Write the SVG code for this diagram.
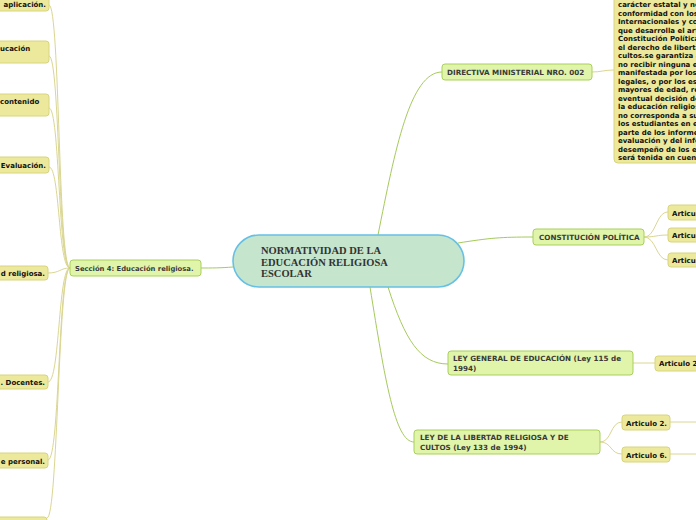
<svg xmlns="http://www.w3.org/2000/svg" width="696" height="520" viewBox="0 0 696 520">
<style>
.g rect{fill:#e0f5a9;stroke:#a9cf5c;stroke-width:1}
.y rect{fill:#ece99c;stroke:#d8d47e;stroke-width:1}
.g text{font-family:"DejaVu Sans",Verdana,sans-serif;font-weight:bold;font-size:7.2px;fill:#3a3a3a}
.g text.lc{font-size:6.8px}
.y text{font-family:"DejaVu Sans",Verdana,sans-serif;font-weight:bold;font-size:7px;fill:#111}
.cg{fill:none;stroke:#a6ca5c;stroke-width:1}
.cy{fill:none;stroke:#dad692;stroke-width:1}
.c text{font-family:"Liberation Serif","Times New Roman",serif;font-weight:bold;font-size:10.5px;fill:#333}
</style>
<rect width="696" height="520" fill="#fff"/>
<g id="connectors">
<path class="cg" d="M233,267 C220,268 212,268 201,268"/>
<path class="cg" d="M378,235 C395,150 410,72 442,72"/>
<path class="cg" d="M458,243 C490,238 500,237 533,237"/>
<path class="cg" d="M388,287 C405,340 420,364 448,364"/>
<path class="cg" d="M370,287 C385,380 395,442 414,442"/>
<path class="cy" d="M592,72 C600,72 605,70 614,70"/>
<path class="cy" d="M644,237 C656,237 656,212 668,212"/>
<path class="cy" d="M644,237 C656,237 656,235 668,235"/>
<path class="cy" d="M644,237 C656,237 656,260 668,260"/>
<path class="cy" d="M633,363 L655,363"/>
<path class="cy" d="M600,442 C612,442 610,422 622,422"/>
<path class="cy" d="M600,442 C612,442 610,454 622,454"/>
<path class="cy" d="M670,422 L696,422"/>
<path class="cy" d="M670,454 L696,454"/>
<path class="cy" d="M70,268 C58,268 60,5 49,5"/>
<path class="cy" d="M70,268 C58,268 60,56 49,56"/>
<path class="cy" d="M70,268 C58,268 60,108 49,108"/>
<path class="cy" d="M70,268 C58,268 60,167 49,167"/>
<path class="cy" d="M70,268 C60,268 60,273 48,273"/>
<path class="cy" d="M70,268 C58,268 60,382 48,382"/>
<path class="cy" d="M70,268 C58,268 60,460 48,460"/>
<path class="cy" d="M70,268 C58,268 58,518 47,518"/>
</g>
<g id="central" class="c">
<rect x="233" y="235" width="231" height="52" rx="26" fill="#c5e5cd" stroke="#66c0e6" stroke-width="1.6"/>
<text x="261" y="254">NORMATIVIDAD DE LA</text>
<text x="261" y="265.5">EDUCACIÓN RELIGIOSA</text>
<text x="261" y="277">ESCOLAR</text>
</g>
<g id="seccion4" class="g">
<rect x="70" y="260" width="131" height="16" rx="3"/>
<text class="lc" x="75" y="271">Sección 4: Educación religiosa.</text>
</g>
<g id="l1" class="y"><rect x="-10" y="-5" width="59" height="16" rx="3"/><text x="46" y="7" text-anchor="end">aplicación.</text></g>
<g id="l2" class="y"><rect x="-10" y="41" width="59" height="22" rx="3"/><text x="0" y="51">ucación</text></g>
<g id="l3" class="y"><rect x="-10" y="94" width="59" height="22" rx="3"/><text x="0" y="104">contenido</text></g>
<g id="l4" class="y"><rect x="-10" y="157" width="59" height="16" rx="3"/><text x="46" y="168" text-anchor="end">Evaluación.</text></g>
<g id="l5" class="y"><rect x="-10" y="266" width="58" height="14" rx="3"/><text x="45" y="276" text-anchor="end">d religiosa.</text></g>
<g id="l6" class="y"><rect x="-10" y="375" width="58" height="14" rx="3"/><text x="45" y="385" text-anchor="end">. Docentes.</text></g>
<g id="l7" class="y"><rect x="-10" y="453" width="58" height="15" rx="3"/><text x="45" y="464" text-anchor="end">e personal.</text></g>
<g id="l8" class="y"><rect x="-10" y="517" width="57" height="14" rx="3"/></g>
<g id="directiva" class="g">
<rect x="442" y="64" width="150" height="16" rx="3"/>
<text x="447" y="75">DIRECTIVA MINISTERIAL NRO. 002</text>
</g>
<g id="directiva-texto" class="y">
<rect x="614" y="-10" width="100" height="173" rx="4"/>
<text x="618" y="7">carácter estatal y no</text>
<text x="618" y="15.5">conformidad con los</text>
<text x="618" y="24">Internacionales y con</text>
<text x="618" y="32.5">que desarrolla el artículo</text>
<text x="618" y="41">Constitución Política</text>
<text x="618" y="49.5">el derecho de libertad</text>
<text x="618" y="58">cultos.se garantiza a</text>
<text x="618" y="66.5">no recibir ninguna e</text>
<text x="618" y="75">manifestada por los</text>
<text x="618" y="83.5">legales, o por los es</text>
<text x="618" y="92">mayores de edad, re</text>
<text x="618" y="100.5">eventual decisión de</text>
<text x="618" y="109">la educación religios</text>
<text x="618" y="117.5">no corresponda a su</text>
<text x="618" y="126">los estudiantes en e</text>
<text x="618" y="134.5">parte de los informe</text>
<text x="618" y="143">evaluación y del info</text>
<text x="618" y="151.5">desempeño de los e</text>
<text x="618" y="160">será tenida en cuenta</text>
</g>
<g id="constitucion" class="g">
<rect x="533" y="229" width="111" height="16" rx="3"/>
<text x="539" y="240">CONSTITUCIÓN POLÍTICA</text>
</g>
<g id="c1" class="y"><rect x="668" y="205" width="40" height="15" rx="3"/><text x="672" y="215.5">Articulo</text></g>
<g id="c2" class="y"><rect x="668" y="228" width="40" height="14" rx="3"/><text x="672" y="238">Articulo</text></g>
<g id="c3" class="y"><rect x="668" y="253" width="40" height="14" rx="3"/><text x="672" y="263">Articulo</text></g>
<g id="leygeneral" class="g">
<rect x="448" y="351" width="185" height="24" rx="3"/>
<text x="453" y="361">LEY GENERAL DE EDUCACIÓN (Ley 115 de</text>
<text x="453" y="371">1994)</text>
</g>
<g id="lg1" class="y"><rect x="655" y="356" width="60" height="15" rx="3"/><text x="659" y="366">Articulo 2</text></g>
<g id="leylibertad" class="g">
<rect x="414" y="430" width="186" height="24" rx="3"/>
<text x="420" y="440">LEY DE LA LIBERTAD RELIGIOSA Y DE</text>
<text x="420" y="450">CULTOS (Ley 133 de 1994)</text>
</g>
<g id="ll1" class="y"><rect x="622" y="415" width="48" height="15" rx="3"/><text x="626" y="425.5">Articulo 2.</text></g>
<g id="ll2" class="y"><rect x="622" y="447" width="48" height="15" rx="3"/><text x="626" y="457.5">Articulo 6.</text></g>
</svg>
